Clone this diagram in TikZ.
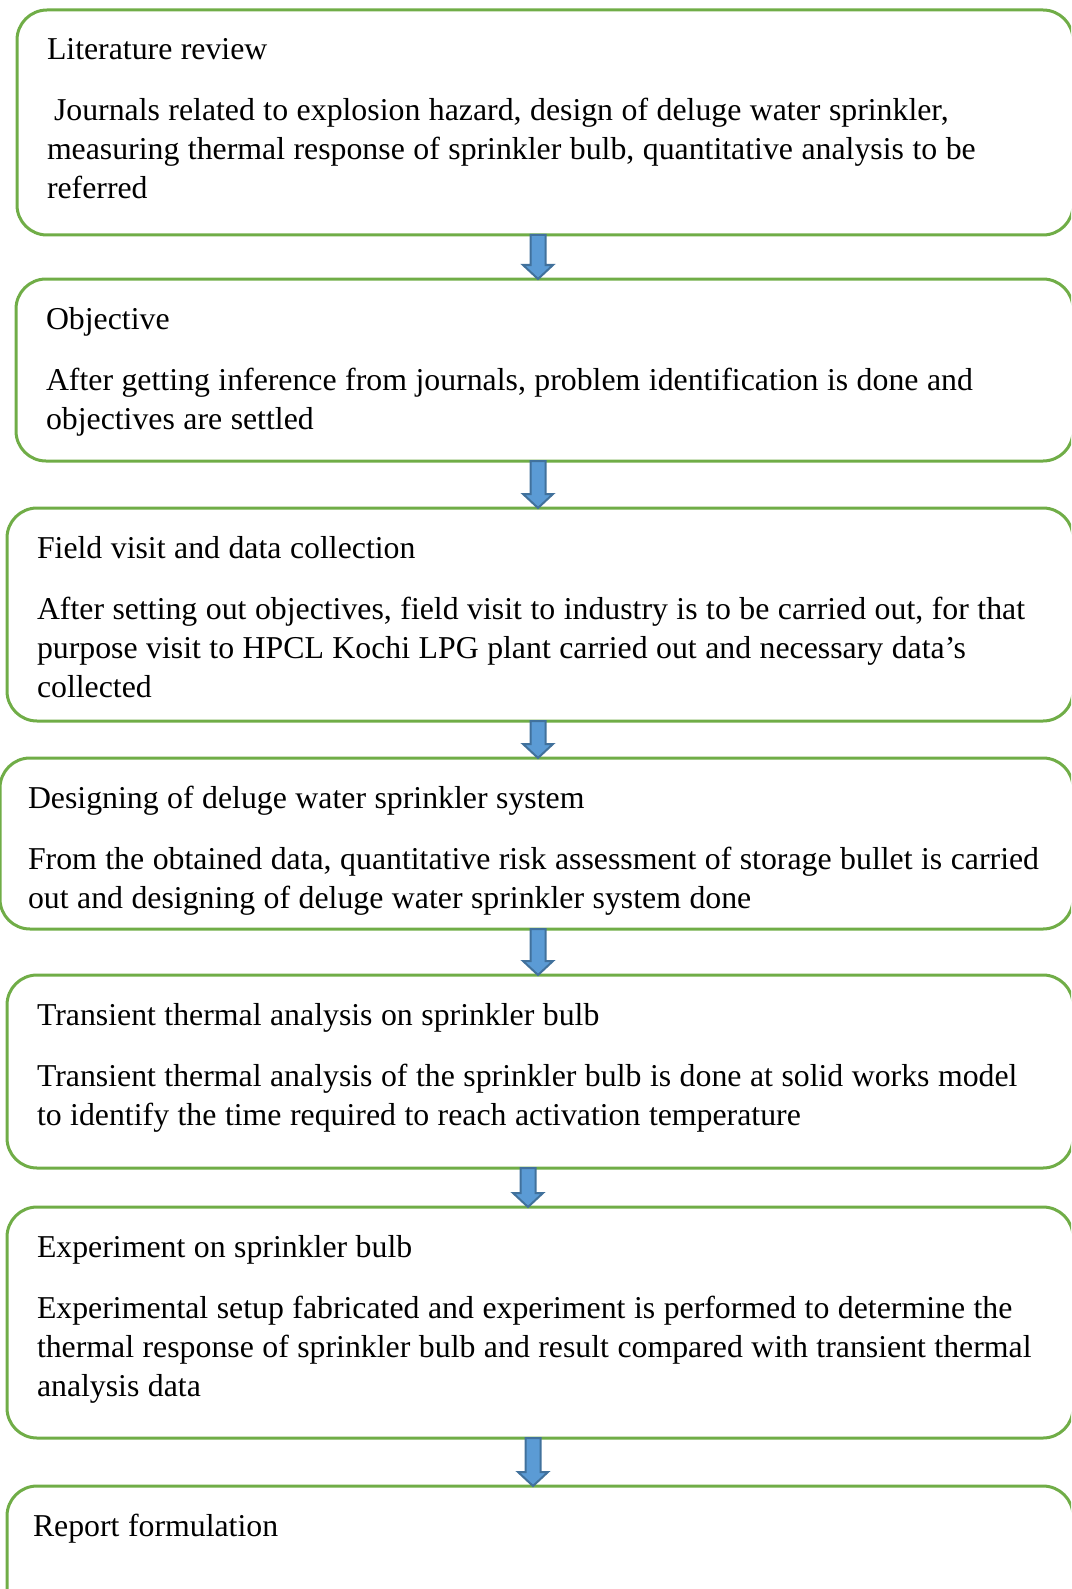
\documentclass[tikz,border=0pt]{standalone}
\usepackage{fontspec}
\setmainfont{Liberation Serif}
\usepackage{xcolor}
\usepackage{tikz}
\usetikzlibrary{positioning, calc}
\definecolor{stagegreen}{HTML}{70AD47}
\definecolor{arrowblue}{HTML}{5B9BD5}
\definecolor{arrowedge}{HTML}{41719C}
\tikzstyle{stage} = [rectangle, rounded corners=30pt, draw=stagegreen, line width=3pt, outer sep=0pt, anchor=north west, align=left, inner xsep=30pt, inner ysep=23pt, text height=27pt, font=\fontsize{31.8pt}{39pt}\selectfont, execute at begin node={\spaceskip=8.5pt plus 2pt minus 1pt\relax\hyphenpenalty=10000\relax}]
\tikzstyle{flowarrow} = [fill=arrowblue, draw=arrowedge, line width=2pt, line join=miter]
\newcommand{\stagearrow}[3]{%
  \filldraw[flowarrow]
    (#3-7.5,0 |- #1.south) -- (#3+7.5,0 |- #1.south)
    -- ($(#3+7.5,0 |- #2.north)+(0,14)$) -- ($(#3+15,0 |- #2.north)+(0,14)$)
    -- (#3,0 |- #2.north)
    -- ($(#3-15,0 |- #2.north)+(0,14)$) -- ($(#3-7.5,0 |- #2.north)+(0,14)$) -- cycle;}

\begin{document}
\begin{tikzpicture}[x=1pt, y=1pt]
    \useasboundingbox (0,0) rectangle (1071,-1589);
    \clip (0,0) rectangle (1071,-1589);

    \node (lit) [stage, text width=996pt, text depth=152pt] at (17,-10)
        {Literature review\\[22pt]
         \hspace*{7pt}Journals related to explosion hazard, design of deluge water sprinkler,\\
         measuring thermal response of sprinkler bulb, quantitative analysis to be\\
         referred};
    \node (obj) [stage, below=44pt of lit.south west, anchor=north west, xshift=-1pt, text width=997pt, text depth=109pt]
        {Objective\\[22pt]
         After getting inference from journals, problem identification is done and\\
         objectives are settled};
    \node (field) [stage, below=47pt of obj.south west, anchor=north west, xshift=-9pt, text width=1006pt, text depth=140pt]
        {Field visit and data collection\\[22pt]
         After setting out objectives, field visit to industry is to be carried out, for that\\
         purpose visit to HPCL Kochi LPG plant carried out and necessary data’s\\
         collected};
    \node (design) [stage, below=37pt of field.south west, anchor=north west, xshift=-7pt, inner xsep=28pt, text width=1017pt, text depth=98pt]
        {Designing of deluge water sprinkler system\\[22pt]
         From the obtained data, quantitative risk assessment of storage bullet is carried\\
         out and designing of deluge water sprinkler system done};
    \node (trans) [stage, below=46pt of design.south west, anchor=north west, xshift=7pt, text width=1006pt, text depth=120pt]
        {Transient thermal analysis on sprinkler bulb\\[22pt]
         Transient thermal analysis of the sprinkler bulb is done at solid works model\\
         to identify the time required to reach activation temperature};
    \node (expt) [stage, below=39pt of trans.south west, anchor=north west, text width=1006pt, text depth=158pt]
        {Experiment on sprinkler bulb\\[22pt]
         Experimental setup fabricated and experiment is performed to determine the\\
         thermal response of sprinkler bulb and result compared with transient thermal\\
         analysis data};
    \node (report) [stage, below=48pt of expt.south west, anchor=north west, inner xsep=26pt, text width=1014pt, text depth=107pt]
        {Report formulation};

    \stagearrow{lit}{obj}{538}
    \stagearrow{obj}{field}{538}
    \stagearrow{field}{design}{538}
    \stagearrow{design}{trans}{538}
    \stagearrow{trans}{expt}{528}
    \stagearrow{expt}{report}{533}
\end{tikzpicture}
\end{document}
